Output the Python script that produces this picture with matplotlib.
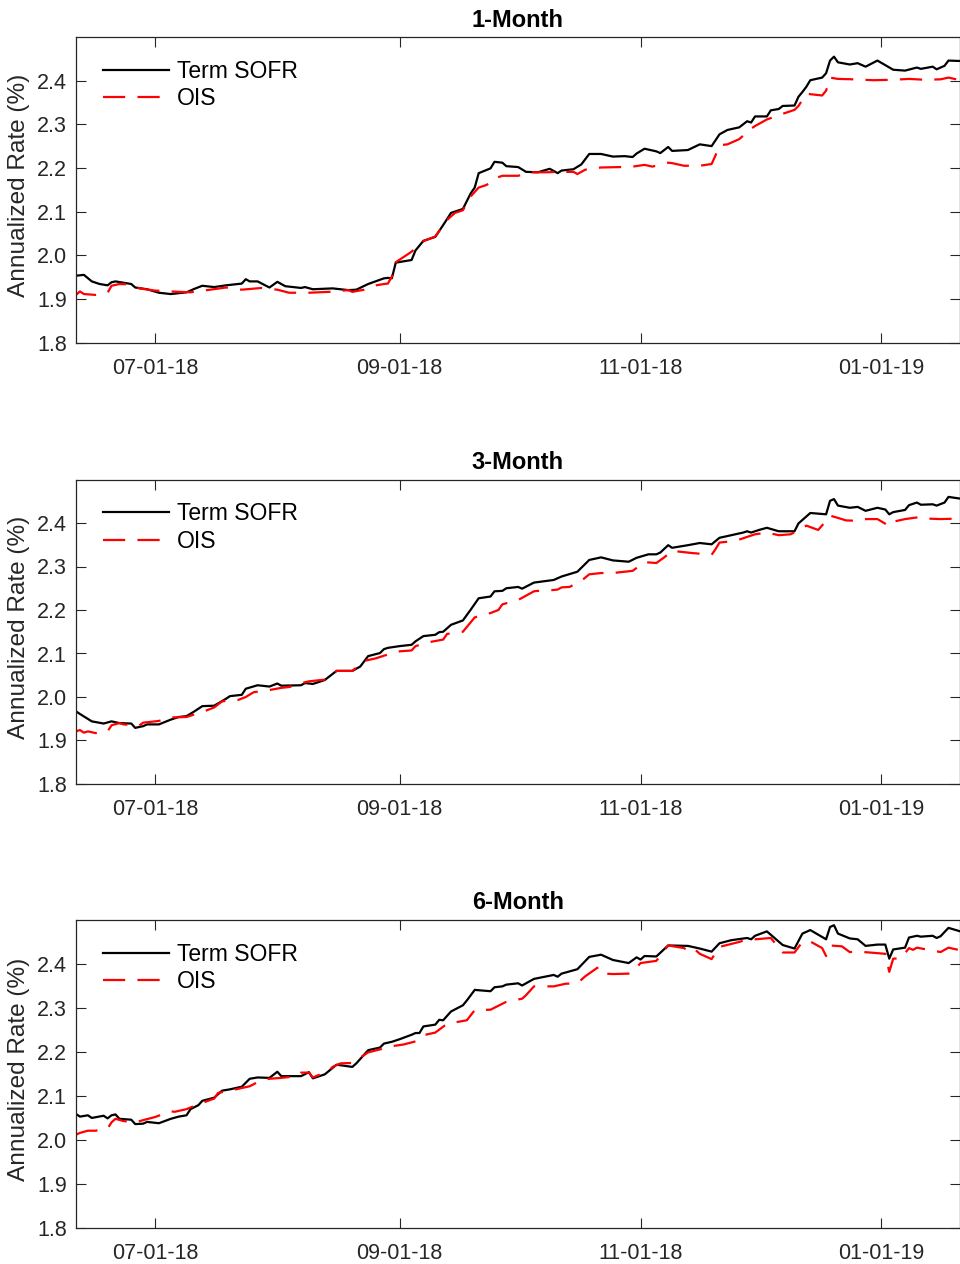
import numpy as np
import matplotlib
matplotlib.use("Agg")
import matplotlib.pyplot as plt
import matplotlib.dates as mdates

plt.rcParams['font.family'] = ['Liberation Sans', 'DejaVu Sans']

START = np.datetime64('2018-06-11')
X_END = np.datetime64('2019-01-20T19:00')

titles = ['1-Month', '3-Month', '6-Month']
series_names = ['Term SOFR', 'OIS']
xtick_dates = ['2018-07-01', '2018-09-01', '2018-11-01', '2019-01-01']
ytick_vals = [1.8, 1.9, 2.0, 2.1, 2.2, 2.3, 2.4]

# ---- 1-Month (day offsets from 2018-06-11, annualized rate %) ----
m1_sofr_days = [0, 2, 4, 6, 8, 9, 10, 14, 15, 18, 21, 24, 28, 30, 32, 35, 38, 42, 43, 44, 46, 49, 51, 53, 57, 58,
                60, 65, 69, 71, 74, 78, 79, 80, 81, 85, 86, 88, 91, 93, 95, 98, 100, 101, 102, 105, 106, 108, 109,
                112, 114, 117, 120, 122, 123, 126, 128, 130, 133, 136, 139, 141, 142, 144, 147, 148, 150, 151, 155,
                158, 161, 163, 165, 168, 170, 171, 172, 175, 176, 178, 179, 182, 183, 184, 185, 186, 189, 190, 191,
                192, 193, 196, 198, 200, 203, 207, 210, 213, 214, 217, 218, 220, 221, 224]
m1_sofr = [1.953, 1.955, 1.940, 1.934, 1.931, 1.938, 1.940, 1.934, 1.926, 1.922, 1.914, 1.911, 1.915, 1.923, 1.930,
           1.927, 1.931, 1.935, 1.945, 1.940, 1.940, 1.926, 1.939, 1.929, 1.925, 1.927, 1.922, 1.924, 1.920, 1.921,
           1.934, 1.947, 1.948, 1.947, 1.983, 1.989, 2.011, 2.033, 2.042, 2.069, 2.097, 2.106, 2.142, 2.155, 2.188,
           2.199, 2.214, 2.212, 2.204, 2.202, 2.191, 2.190, 2.198, 2.188, 2.194, 2.197, 2.208, 2.232, 2.232, 2.226,
           2.227, 2.225, 2.233, 2.244, 2.238, 2.234, 2.248, 2.239, 2.241, 2.254, 2.250, 2.277, 2.287, 2.293, 2.307,
           2.304, 2.318, 2.318, 2.332, 2.335, 2.342, 2.343, 2.363, 2.374, 2.386, 2.401, 2.407, 2.417, 2.446, 2.455,
           2.442, 2.437, 2.440, 2.432, 2.446, 2.425, 2.423, 2.430, 2.427, 2.432, 2.426, 2.434, 2.446, 2.445]
m1_ois_days = [0, 1, 2, 5, 8, 9, 11, 14, 16, 20, 24, 29, 34, 38, 42, 47, 51, 54, 59, 64, 69, 70, 73, 76, 78, 79, 80,
               81, 85, 88, 91, 94, 96, 98, 100, 102, 104, 106, 108, 112, 115, 119, 123, 126, 127, 129, 133, 138, 141,
               144, 146, 150, 151, 154, 158, 161, 162, 163, 165, 168, 171, 172, 175, 179, 182, 183, 185, 189, 190,
               191, 193, 197, 202, 207, 211, 215, 219, 221, 224]
m1_ois = [1.909, 1.917, 1.911, 1.909, 1.914, 1.930, 1.934, 1.933, 1.924, 1.919, 1.917, 1.915, 1.921, 1.926, 1.921,
          1.925, 1.921, 1.914, 1.914, 1.916, 1.920, 1.916, 1.921, 1.931, 1.934, 1.935, 1.951, 1.984, 2.008, 2.032,
          2.043, 2.081, 2.097, 2.103, 2.135, 2.155, 2.161, 2.176, 2.182, 2.182, 2.190, 2.190, 2.191, 2.191, 2.186,
          2.196, 2.201, 2.202, 2.203, 2.207, 2.203, 2.212, 2.211, 2.205, 2.205, 2.209, 2.229, 2.252, 2.254, 2.266,
          2.290, 2.296, 2.311, 2.324, 2.333, 2.342, 2.370, 2.366, 2.377, 2.407, 2.404, 2.403, 2.401, 2.402, 2.404,
          2.402, 2.403, 2.407, 2.401]

# ---- 3-Month ----
m3_sofr_days = [0, 1, 4, 7, 9, 11, 14, 15, 17, 18, 21, 24, 26, 28, 30, 32, 35, 38, 39, 42, 43, 46, 49, 51, 52, 57,
                58, 60, 63, 66, 70, 72, 74, 77, 78, 79, 82, 85, 86, 88, 91, 92, 93, 95, 98, 100, 102, 105, 106, 108,
                109, 112, 113, 116, 121, 123, 127, 130, 133, 136, 140, 142, 145, 147, 148, 150, 151, 155, 158, 161,
                163, 166, 169, 170, 171, 173, 175, 178, 182, 183, 186, 190, 191, 192, 193, 196, 198, 200, 203, 205,
                206, 207, 210, 211, 213, 214, 217, 218, 220, 221, 224]
m3_sofr = [1.967, 1.961, 1.944, 1.939, 1.944, 1.940, 1.939, 1.929, 1.933, 1.937, 1.937, 1.948, 1.954, 1.956, 1.967,
           1.979, 1.980, 1.996, 2.002, 2.005, 2.019, 2.027, 2.024, 2.031, 2.026, 2.027, 2.032, 2.030, 2.039, 2.060,
           2.060, 2.070, 2.094, 2.101, 2.110, 2.113, 2.117, 2.120, 2.128, 2.140, 2.143, 2.149, 2.150, 2.166, 2.176,
           2.201, 2.227, 2.231, 2.243, 2.244, 2.250, 2.253, 2.249, 2.263, 2.269, 2.277, 2.288, 2.315, 2.321, 2.314,
           2.311, 2.320, 2.328, 2.328, 2.332, 2.349, 2.343, 2.349, 2.354, 2.351, 2.366, 2.372, 2.378, 2.381, 2.378,
           2.384, 2.389, 2.381, 2.381, 2.399, 2.423, 2.420, 2.451, 2.455, 2.440, 2.435, 2.437, 2.428, 2.435, 2.431,
           2.420, 2.425, 2.430, 2.441, 2.447, 2.442, 2.443, 2.440, 2.447, 2.460, 2.456]
m3_ois_days = [0, 1, 2, 3, 5, 8, 9, 11, 12, 16, 17, 21, 24, 28, 33, 35, 37, 41, 43, 45, 49, 52, 54, 58, 59, 63, 66,
               70, 73, 76, 78, 82, 85, 86, 90, 93, 94, 98, 101, 105, 107, 108, 112, 116, 117, 121, 122, 123, 125, 128,
               130, 133, 136, 141, 144, 147, 149, 151, 156, 161, 162, 163, 167, 172, 175, 178, 181, 183, 185, 188,
               190, 191, 194, 195, 198, 200, 203, 206, 207, 210, 214, 216, 219, 223, 224]
m3_ois = [1.921, 1.924, 1.918, 1.921, 1.917, 1.921, 1.935, 1.940, 1.937, 1.934, 1.941, 1.945, 1.953, 1.954, 1.969,
          1.976, 1.990, 1.993, 2.000, 2.011, 2.016, 2.021, 2.023, 2.034, 2.036, 2.040, 2.060, 2.060, 2.083, 2.089,
          2.095, 2.105, 2.107, 2.117, 2.127, 2.132, 2.145, 2.150, 2.183, 2.193, 2.200, 2.213, 2.223, 2.243, 2.244,
          2.246, 2.247, 2.252, 2.253, 2.267, 2.282, 2.285, 2.285, 2.290, 2.310, 2.308, 2.321, 2.336, 2.331, 2.327,
          2.340, 2.355, 2.359, 2.374, 2.378, 2.372, 2.374, 2.383, 2.394, 2.384, 2.405, 2.417, 2.409, 2.406, 2.405,
          2.409, 2.409, 2.393, 2.403, 2.409, 2.414, 2.410, 2.409, 2.410, 2.404]

# ---- 6-Month ----
m6_sofr_days = [0, 1, 3, 4, 7, 8, 9, 10, 11, 14, 15, 17, 18, 21, 24, 26, 28, 29, 31, 32, 35, 37, 39, 42, 44, 46, 49,
                51, 52, 57, 59, 60, 63, 66, 70, 71, 74, 77, 78, 79, 80, 82, 85, 86, 87, 88, 91, 92, 93, 95, 98, 99,
                101, 105, 106, 108, 109, 112, 113, 116, 121, 122, 123, 127, 130, 133, 136, 140, 142, 143, 144, 147,
                150, 155, 158, 161, 163, 166, 170, 171, 172, 175, 179, 182, 184, 186, 190, 191, 192, 193, 196, 198,
                200, 203, 205, 206, 207, 210, 211, 213, 214, 217, 218, 219, 221, 224]
m6_sofr = [2.058, 2.052, 2.055, 2.049, 2.054, 2.048, 2.055, 2.057, 2.047, 2.045, 2.035, 2.036, 2.040, 2.037, 2.047,
           2.052, 2.055, 2.069, 2.078, 2.088, 2.095, 2.111, 2.114, 2.120, 2.138, 2.141, 2.140, 2.154, 2.144, 2.144,
           2.153, 2.139, 2.148, 2.170, 2.165, 2.173, 2.203, 2.209, 2.218, 2.220, 2.222, 2.228, 2.238, 2.242, 2.242,
           2.257, 2.261, 2.272, 2.271, 2.291, 2.305, 2.316, 2.340, 2.337, 2.346, 2.348, 2.352, 2.355, 2.350, 2.365,
           2.374, 2.370, 2.377, 2.387, 2.415, 2.420, 2.408, 2.401, 2.414, 2.409, 2.417, 2.416, 2.441, 2.440, 2.434,
           2.427, 2.446, 2.453, 2.458, 2.455, 2.463, 2.473, 2.442, 2.434, 2.468, 2.476, 2.455, 2.483, 2.487, 2.468,
           2.457, 2.455, 2.440, 2.443, 2.443, 2.411, 2.432, 2.436, 2.459, 2.463, 2.461, 2.463, 2.458, 2.462, 2.481,
           2.473]
m6_ois_days = [0, 1, 3, 5, 8, 9, 10, 12, 15, 17, 20, 24, 25, 28, 31, 35, 36, 39, 44, 47, 49, 52, 56, 57, 59, 60, 64,
               65, 67, 70, 72, 74, 78, 80, 83, 86, 88, 91, 94, 99, 101, 105, 109, 113, 114, 116, 121, 124, 127, 129,
               132, 133, 134, 136, 140, 141, 143, 147, 150, 154, 156, 157, 158, 161, 163, 164, 168, 170, 172, 176,
               179, 182, 184, 186, 189, 190, 191, 194, 196, 198, 201, 205, 206, 207, 209, 211, 212, 213, 216, 219,
               221, 224]
m6_ois = [2.011, 2.015, 2.020, 2.020, 2.025, 2.039, 2.047, 2.042, 2.039, 2.044, 2.051, 2.064, 2.063, 2.069, 2.080,
          2.093, 2.106, 2.111, 2.121, 2.135, 2.138, 2.140, 2.144, 2.152, 2.152, 2.141, 2.156, 2.165, 2.173, 2.174,
          2.186, 2.198, 2.207, 2.212, 2.216, 2.223, 2.237, 2.243, 2.263, 2.271, 2.294, 2.295, 2.313, 2.320, 2.328,
          2.348, 2.348, 2.354, 2.355, 2.371, 2.390, 2.391, 2.377, 2.376, 2.377, 2.380, 2.401, 2.406, 2.441, 2.435,
          2.424, 2.430, 2.422, 2.410, 2.438, 2.440, 2.449, 2.455, 2.455, 2.458, 2.425, 2.425, 2.449, 2.450, 2.435,
          2.417, 2.441, 2.439, 2.426, 2.427, 2.425, 2.422, 2.381, 2.411, 2.412, 2.435, 2.431, 2.436, 2.431, 2.426,
          2.436, 2.430]

panels = [
    (m1_sofr_days, m1_sofr, m1_ois_days, m1_ois),
    (m3_sofr_days, m3_sofr, m3_ois_days, m3_ois),
    (m6_sofr_days, m6_sofr, m6_ois_days, m6_ois),
]


def to_dates(days):
    return START + np.array(days).astype('timedelta64[D]')


W, H = 960, 1264
fig = plt.figure(figsize=(W / 100, H / 100), dpi=100)
# axes boxes in pixels: (left, top, right, bottom)
boxes = [(76, 37, 959.5, 342.5), (76, 479.5, 959.5, 784), (76, 919.5, 959.5, 1227.5)]
axcol = '#262626'

for (sd, sv, od, ov), title, (l, t, r, b) in zip(panels, titles, boxes):
    ax = fig.add_axes([l / W, 1 - b / H, (r - l) / W, (b - t) / H])
    ax.plot(to_dates(sd), sv, color='black', lw=1.6, label=series_names[0])
    ax.plot(to_dates(od), ov, color='red', lw=1.6, dashes=(10.0, 5.5), label=series_names[1])
    ax.set_xlim(START, X_END)
    ax.set_ylim(1.8, 2.5)
    ax.set_yticks(ytick_vals)
    ax.yaxis.set_major_formatter(matplotlib.ticker.FormatStrFormatter('%.1f'))
    ax.set_xticks([np.datetime64(d) for d in xtick_dates])
    ax.xaxis.set_major_formatter(mdates.DateFormatter('%m-%d-%y'))
    ax.tick_params(direction='in', length=7, width=0.8, top=True, right=True,
                   colors=axcol, labelsize=15.5)
    ax.tick_params(axis='x', pad=11)
    ax.tick_params(axis='y', pad=6.5)
    for s in ax.spines.values():
        s.set_color(axcol)
        s.set_linewidth(0.9)
    ax.set_title(title, fontsize=17, fontweight='bold', pad=7.5, color='black')
    ax.set_ylabel('Annualized Rate (%)', fontsize=17.6, color=axcol)
    ax.yaxis.set_label_coords(-0.052, 0.515)
    ax.legend(loc='upper left', frameon=False, fontsize=16.5, handlelength=2.87,
              handletextpad=0.35, labelspacing=0.2, borderaxespad=0.0,
              bbox_to_anchor=(0.02, 0.955))

fig.savefig('out.png', dpi=100)
